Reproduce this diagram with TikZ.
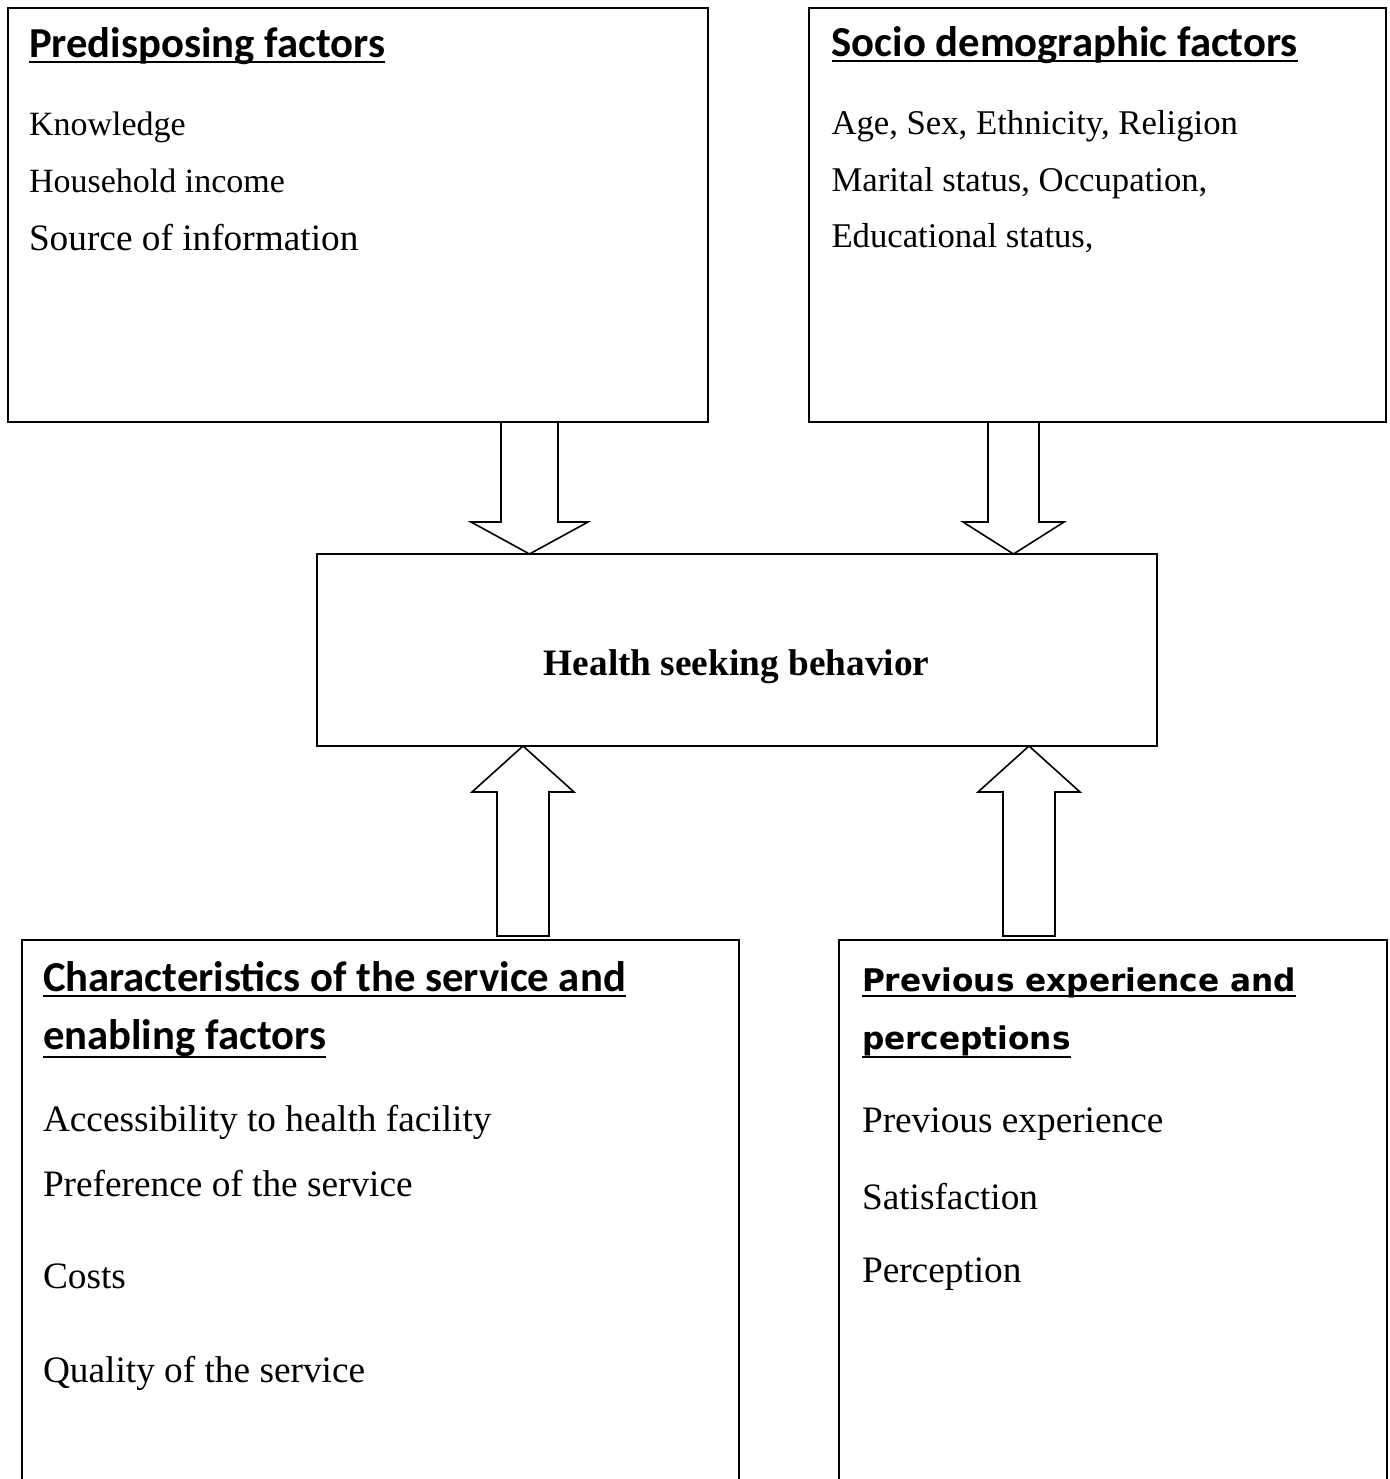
\documentclass[tikz,border=0pt]{standalone}
\usepackage{fontspec}
\setmainfont{Liberation Serif}
\newfontfamily\titlefont{Carlito}
\newfontfamily\dejafont{DejaVu Sans}
\usetikzlibrary{calc}
\newcommand\blockarr[5]{%
  \draw[blockarrow] let \p1=(#1), \p2=(#2) in
    ({\x2-#3},\y1) -- ({\x2-#3},{\y2+(#5)}) -- ({\x2-#4},{\y2+(#5)}) -- (\x2,\y2)
    -- ({\x2+#4},{\y2+(#5)}) -- ({\x2+#3},{\y2+(#5)}) -- ({\x2+#3},\y1) -- cycle;}
\begin{document}
\begin{tikzpicture}[x=1pt,y=-1pt,
  box/.style={rectangle, draw, line width=1.6pt, outer sep=0pt, inner sep=0pt, anchor=north west},
  openbox/.style={rectangle, outer sep=0pt, inner sep=0pt, anchor=north west},
  edge/.style={line width=1.6pt},
  body/.style={anchor=base west, inner sep=0pt, outer sep=0pt, font=\fontsize{34}{40}\selectfont},
  bodyR/.style={anchor=base west, inner sep=0pt, outer sep=0pt, font=\fontsize{34.7}{40}\selectfont},
  bodyL/.style={anchor=base west, inner sep=0pt, outer sep=0pt, font=\fontsize{37.3}{44}\selectfont},
  title/.style={anchor=base west, inner sep=0pt, outer sep=0pt, font=\titlefont\bfseries\fontsize{42.7}{48}\selectfont},
  titleD/.style={anchor=base west, inner sep=0pt, outer sep=0pt, font=\dejafont\bfseries\fontsize{31.2}{38}\selectfont},
  uline/.style={line width=2pt},
  blockarrow/.style={draw, line width=1.6pt, line join=miter, fill=white}]

\useasboundingbox[fill=white] (0,0) rectangle (1389,1479);

% boxes
\node[box, minimum width=700pt, minimum height=414pt] (pred) at (8,8) {};
\node[box, minimum width=577pt, minimum height=414pt] (socio) at (809,8) {};
\node[box, minimum width=840pt, minimum height=192pt] (hsb) at (317,554) {};
\node[openbox, minimum width=717pt, minimum height=545pt] (char) at (22,940) {};
\node[openbox, minimum width=548pt, minimum height=545pt] (prev) at (839,940) {};
\draw[edge] (char.south west) -- (char.north west) -- (char.north east) -- (char.south east);
\draw[edge] (prev.south west) -- (prev.north west) -- (prev.north east) -- (prev.south east);

% top-left box texts
\node[title] (predt) at (29,57.5) {Predisposing factors};
\draw[uline] ([yshift=-4.5pt]predt.base west) -- ([yshift=-4.5pt]predt.base east);
\node[body] (k1) at (29,136) {Knowledge};
\node[body] (k2) at (29,192.5) {Household income};
\node[bodyL] (k3) at (29,251) {Source of information};

% top-right box texts
\node[title] (sociot) at (831.5,57) {Socio demographic factors};
\draw[uline] ([yshift=-4.5pt]sociot.base west) -- ([yshift=-4.5pt]sociot.base east);
\node[bodyR] (s1) at (831.5,135) {Age, Sex, Ethnicity, Religion};
\node[bodyR] (s2) at (831.5,192) {Marital status, Occupation,};
\node[bodyR] (s3) at (831.5,247.5) {Educational status,};

% centre
\node[anchor=base, inner sep=0pt, font=\bfseries\fontsize{37.3}{44}\selectfont] (hsbt) at (736.5,675) {Health seeking behavior};

% bottom-left
\node[title] (chart1) at (43,991.5) {Characteristics of the service and};
\draw[uline] ([yshift=-4.5pt]chart1.base west) -- ([yshift=-4.5pt]chart1.base east);
\node[title] (chart2) at (43,1049) {enabling factors};
\draw[uline] ([yshift=-7.5pt]chart2.base west) -- ([yshift=-7.5pt]chart2.base east);
\node[bodyL] (c1) at (43,1131.5) {Accessibility to health facility};
\node[bodyL] (c2) at (43,1196) {Preference of the service};
\node[bodyL] (c3) at (43,1288) {Costs};
\node[bodyL] (c4) at (43,1382.5) {Quality of the service};

% bottom-right
\node[titleD] (prevt1) at (862,991.5) {Previous experience and};
\draw[uline] ([yshift=-4.5pt]prevt1.base west) -- ([yshift=-4.5pt]prevt1.base east);
\node[titleD] (prevt2) at (862,1049) {perceptions};
\draw[uline] ([yshift=-7.5pt]prevt2.base west) -- ([yshift=-7.5pt]prevt2.base east);
\node[bodyL] (p1) at (862,1132.5) {Previous experience};
\node[bodyL] (p2) at (862,1209) {Satisfaction};
\node[bodyL] (p3) at (862,1282.5) {Perception};

% block arrows
\coordinate (d1s) at (529.5,422);
\coordinate (d2s) at (1013.5,422);
\coordinate (u1s) at (523,936);
\coordinate (u2s) at (1029,936);
\blockarr{d1s}{d1s |- hsb.north}{28.5pt}{58.5pt}{32pt}
\blockarr{d2s}{d2s |- hsb.north}{25.5pt}{50.5pt}{32pt}
\blockarr{u1s}{u1s |- hsb.south}{26pt}{51pt}{-46pt}
\blockarr{u2s}{u2s |- hsb.south}{26pt}{51pt}{-46pt}
\end{tikzpicture}
\end{document}
